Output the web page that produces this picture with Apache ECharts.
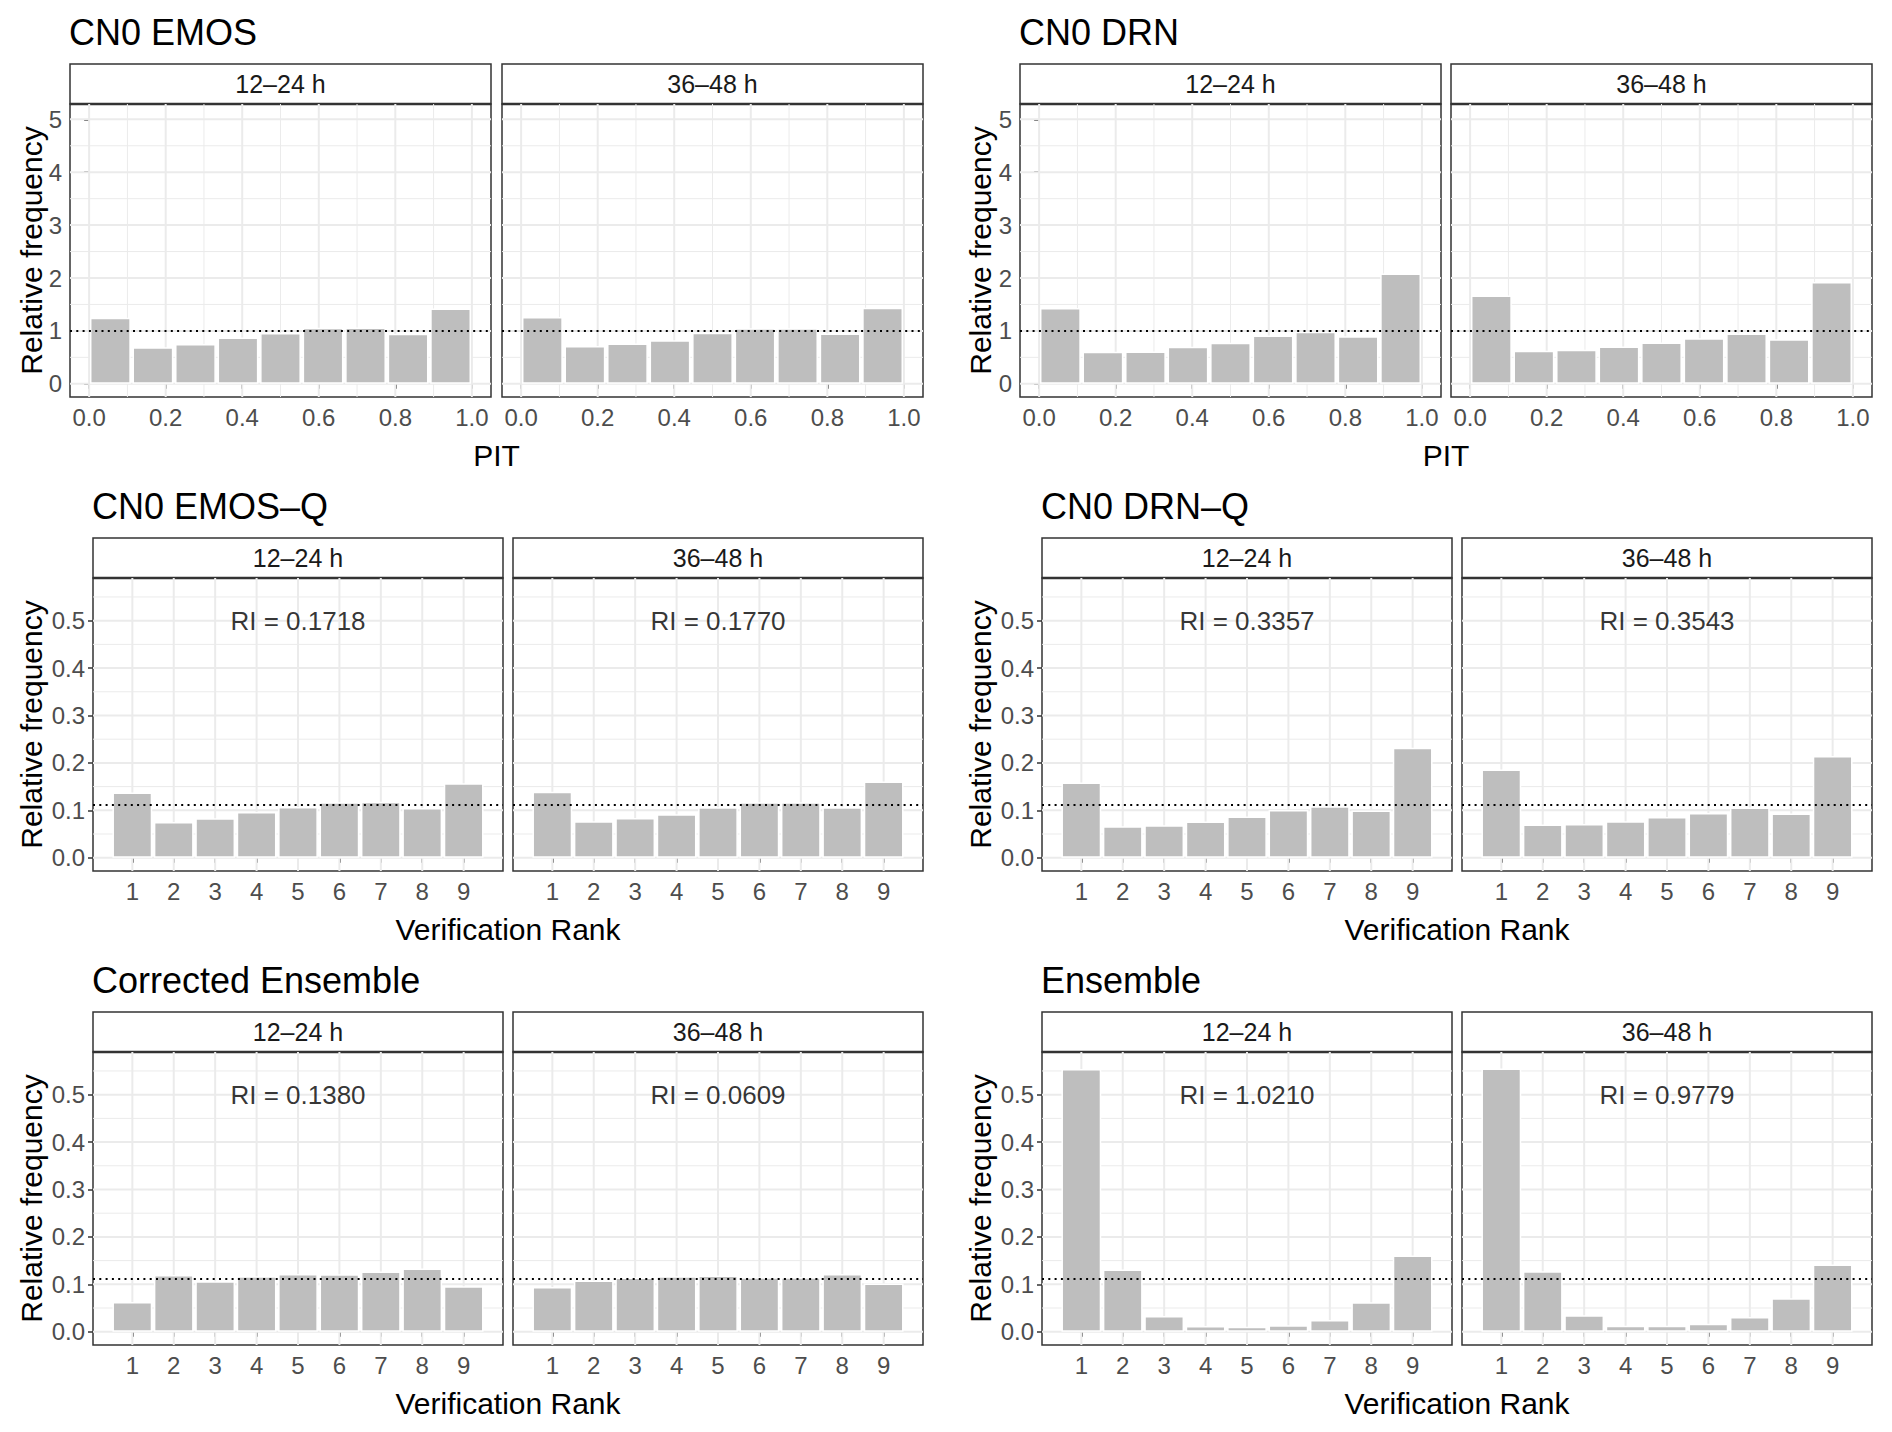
<!DOCTYPE html>
<html>
<head>
<meta charset="utf-8">
<script src="https://cdn.jsdelivr.net/npm/echarts@6/dist/echarts.min.js"></script>
<style>
html,body{margin:0;padding:0;background:#fff;}
#chart{width:1892px;height:1432px;}
</style>
</head>
<body>
<div id="chart"></div>
<script>
// ---------------- data ----------------
const leadTimes = ['12–24 h', '36–48 h'];
const pitBinCount = 9;
const ranks = [1, 2, 3, 4, 5, 6, 7, 8, 9];

// tick labels
const pitXTicks = [0, 0.2, 0.4, 0.6, 0.8, 1.0];
const pitXMinor = [0.1, 0.3, 0.5, 0.7, 0.9];
const pitYTicks = [0, 1, 2, 3, 4, 5];
const pitYMinor = [0.5, 1.5, 2.5, 3.5, 4.5];
const rankYTicks = [0, 0.1, 0.2, 0.3, 0.4, 0.5];
const rankYMinor = [0.05, 0.15, 0.25, 0.35, 0.45, 0.55];

// PIT histograms (relative frequency / density)
const emos_12_24 = [1.248, 0.693, 0.750, 0.876, 0.958, 1.059, 1.065, 0.945, 1.425];
const emos_36_48 = [1.261, 0.712, 0.762, 0.825, 0.964, 1.052, 1.052, 0.951, 1.437];
const drn_12_24  = [1.431, 0.604, 0.611, 0.699, 0.775, 0.914, 0.983, 0.901, 2.087];
const drn_36_48  = [1.671, 0.623, 0.642, 0.705, 0.781, 0.863, 0.951, 0.844, 1.923];

// Verification rank histograms
const emosq_12_24 = [0.1375, 0.0755, 0.0833, 0.0967, 0.1072, 0.1171, 0.1178, 0.1051, 0.1572];
const emosq_36_48 = [0.1389, 0.0769, 0.0840, 0.0917, 0.1065, 0.1171, 0.1171, 0.1065, 0.1607];
const drnq_12_24  = [0.1586, 0.0664, 0.0685, 0.0762, 0.0868, 0.1009, 0.1086, 0.0995, 0.2319];
const drnq_36_48  = [0.1861, 0.0699, 0.0713, 0.0769, 0.0861, 0.0945, 0.1058, 0.0931, 0.2143];
const corr_12_24  = [0.0629, 0.1199, 0.1065, 0.1171, 0.1220, 0.1213, 0.1269, 0.1333, 0.0960];
const corr_36_48  = [0.0945, 0.1079, 0.1143, 0.1171, 0.1185, 0.1150, 0.1150, 0.1220, 0.1016];
const ens_12_24   = [0.5543, 0.1315, 0.0332, 0.0121, 0.0107, 0.0135, 0.0248, 0.0620, 0.1610];
const ens_36_48   = [0.5550, 0.1273, 0.0346, 0.0128, 0.0128, 0.0170, 0.0311, 0.0704, 0.1420];

// Reliability index values
const riEmosQ = [0.1718, 0.1770];
const riDrnQ  = [0.3357, 0.3543];
const riCorr  = [0.1380, 0.0609];
const riEns   = [1.0210, 0.9779];

const pitUniform = 1;
const rankUniform = 0.1111;

// ---------------- layout / style ----------------
const FONT = "'Liberation Sans', Arial, Helvetica, sans-serif";
const stripTops = [64, 538, 1012];
const STRIP_H = 40, PLOT_H = 293;
const panelLefts = { pit: [[70, 502], [1020, 1451]], rank: [[93, 513], [1042, 1462]] };
const panelW = { pit: 421, rank: 410 };
const yTitleX = [31, 980];
const riAnchor = [5, 0.5];

const facets = [
  { title: 'CN0 EMOS', kind: 'pit', row: 0, side: 0, vals: [emos_12_24, emos_36_48] },
  { title: 'CN0 DRN', kind: 'pit', row: 0, side: 1, vals: [drn_12_24, drn_36_48] },
  { title: 'CN0 EMOS–Q', kind: 'rank', row: 1, side: 0, vals: [emosq_12_24, emosq_36_48], ri: riEmosQ },
  { title: 'CN0 DRN–Q', kind: 'rank', row: 1, side: 1, vals: [drnq_12_24, drnq_36_48], ri: riDrnQ },
  { title: 'Corrected Ensemble', kind: 'rank', row: 2, side: 0, vals: [corr_12_24, corr_36_48], ri: riCorr },
  { title: 'Ensemble', kind: 'rank', row: 2, side: 1, vals: [ens_12_24, ens_36_48], ri: riEns }
];

const pitCenters = Array.from({ length: pitBinCount }, (_, i) => (i + 0.5) / pitBinCount);

const AX = {
  pit: { xMin: -0.05, xMax: 1.05, yMin: -0.25, yMax: 5.29,
         xTicks: pitXTicks, xMinor: pitXMinor, yTicks: pitYTicks, yMinor: pitYMinor,
         xFmt: v => Number(v).toFixed(1), yFmt: v => String(v), xTitle: 'PIT',
         ref: pitUniform, xs: pitCenters },
  rank: { xMin: 0.05, xMax: 9.95, yMin: -0.028, yMax: 0.590,
          xTicks: ranks, xMinor: [], yTicks: rankYTicks, yMinor: rankYMinor,
          xFmt: v => String(v), yFmt: v => Number(v).toFixed(1), xTitle: 'Verification Rank',
          ref: rankUniform, xs: ranks }
};

const GRID_COL = '#EBEBEB';
const BORDER_COL = '#333333';
const BAR_COL = '#BEBEBE';
const TICK_COL = '#4D4D4D';

function lineSegs(spec, vals, dir) {
  const out = [];
  vals.forEach(v => {
    if (dir === 'v') out.push([v, spec.yMin], [v, spec.yMax], ['-', '-']);
    else out.push([spec.xMin, v], [spec.xMax, v], ['-', '-']);
  });
  return out;
}

const grids = [], xAxes = [], yAxes = [], series = [], graphics = [];

function addText(x, y, str, size, color, align, rot) {
  graphics.push({
    type: 'text', x: x, y: y, rotation: rot || 0, silent: true,
    style: { text: str, fill: color, fontSize: size, fontFamily: FONT,
             textAlign: align || 'center', textVerticalAlign: 'middle',
             align: align || 'center', verticalAlign: 'middle' }
  });
}

facets.forEach(f => {
  const spec = AX[f.kind];
  const st = stripTops[f.row];
  const lefts = panelLefts[f.kind][f.side];
  const w = panelW[f.kind];
  const plotTop = st + STRIP_H;

  // title
  addText(lefts[0] - 1, st - 31.5, f.title, 36, '#000', 'left');
  // y title
  addText(yTitleX[f.side], plotTop + PLOT_H / 2, 'Relative frequency', 30, '#000', 'center', Math.PI / 2);
  // x title
  addText((lefts[0] + lefts[1] + w) / 2, st + 391, spec.xTitle, 30, '#000', 'center');

  [0, 1].forEach(k => {
    const idx = grids.length;
    const left = lefts[k];
    // strip
    graphics.push({
      type: 'rect', silent: true,
      shape: { x: left, y: st, width: w, height: STRIP_H },
      style: { fill: '#fff', stroke: BORDER_COL, lineWidth: 1.5 }
    });
    graphics.push({
      type: 'line', silent: true,
      shape: { x1: left, y1: st + STRIP_H, x2: left + w, y2: st + STRIP_H },
      style: { stroke: BORDER_COL, lineWidth: 2.5 }
    });
    addText(left + w / 2, st + STRIP_H / 2, leadTimes[k], 25, '#1A1A1A', 'center');

    grids.push({
      left: left, top: plotTop, width: w, height: PLOT_H,
      show: true, backgroundColor: '#fff', borderColor: BORDER_COL, borderWidth: 1.5,
      containLabel: false, outerBoundsMode: 'none'
    });
    xAxes.push({
      type: 'value', gridIndex: idx, min: spec.xMin, max: spec.xMax,
      axisLine: { show: false }, splitLine: { show: false }, minorSplitLine: { show: false },
      axisTick: { show: true, customValues: spec.xTicks, length: 5, lineStyle: { color: BORDER_COL, width: 1.5 } },
      axisLabel: { show: true, customValues: spec.xTicks, formatter: spec.xFmt, margin: 8,
                   color: TICK_COL, fontSize: 24, fontFamily: FONT }
    });
    yAxes.push({
      type: 'value', gridIndex: idx, min: spec.yMin, max: spec.yMax,
      axisLine: { show: false }, splitLine: { show: false }, minorSplitLine: { show: false },
      axisTick: { show: k === 0, customValues: spec.yTicks, length: 5, lineStyle: { color: BORDER_COL, width: 1.5 } },
      axisLabel: { show: k === 0, customValues: spec.yTicks, formatter: spec.yFmt, margin: 8,
                   color: TICK_COL, fontSize: 24, fontFamily: FONT }
    });

    // grid lines (minor, then major)
    series.push({
      type: 'line', xAxisIndex: idx, yAxisIndex: idx, z: 1, silent: true, clip: false,
      symbol: 'none', showSymbol: false, connectNulls: false,
      lineStyle: { color: GRID_COL, width: 1 },
      data: lineSegs(spec, spec.xMinor, 'v').concat(lineSegs(spec, spec.yMinor, 'h'))
    });
    series.push({
      type: 'line', xAxisIndex: idx, yAxisIndex: idx, z: 1, silent: true, clip: false,
      symbol: 'none', showSymbol: false, connectNulls: false,
      lineStyle: { color: GRID_COL, width: 2 },
      data: lineSegs(spec, spec.xTicks, 'v').concat(lineSegs(spec, spec.yTicks, 'h'))
    });

    // bars
    const vals = f.vals[k];
    series.push({
      type: 'bar', xAxisIndex: idx, yAxisIndex: idx, z: 2, silent: true,
      barWidth: '96%',
      itemStyle: { color: BAR_COL, borderColor: '#ffffff', borderWidth: 1.5 },
      data: spec.xs.map((x, i) => [x, vals[i]]),
      markLine: {
        silent: true, symbol: ['none', 'none'], precision: 4, animation: false,
        label: { show: false },
        lineStyle: { color: '#000', width: 2, type: [2, 4.3], cap: 'butt' },
        emphasis: { disabled: true },
        data: [{ yAxis: spec.ref }]
      }
    });

    if (f.ri) {
      series.push({
        type: 'scatter', xAxisIndex: idx, yAxisIndex: idx, z: 4, silent: true,
        symbolSize: 1, itemStyle: { color: 'rgba(0,0,0,0)' },
        label: { show: true, position: 'inside', formatter: 'RI = ' + f.ri[k].toFixed(4),
                 color: '#000', fontSize: 26, fontFamily: FONT },
        data: [riAnchor]
      });
    }
  });
});

const chart = echarts.init(document.getElementById('chart'), null, { renderer: 'svg', width: 1892, height: 1432 });
chart.setOption({
  backgroundColor: '#ffffff',
  animation: false,
  grid: grids,
  xAxis: xAxes,
  yAxis: yAxes,
  series: series,
  graphic: { elements: graphics }
});
</script>
</body>
</html>
